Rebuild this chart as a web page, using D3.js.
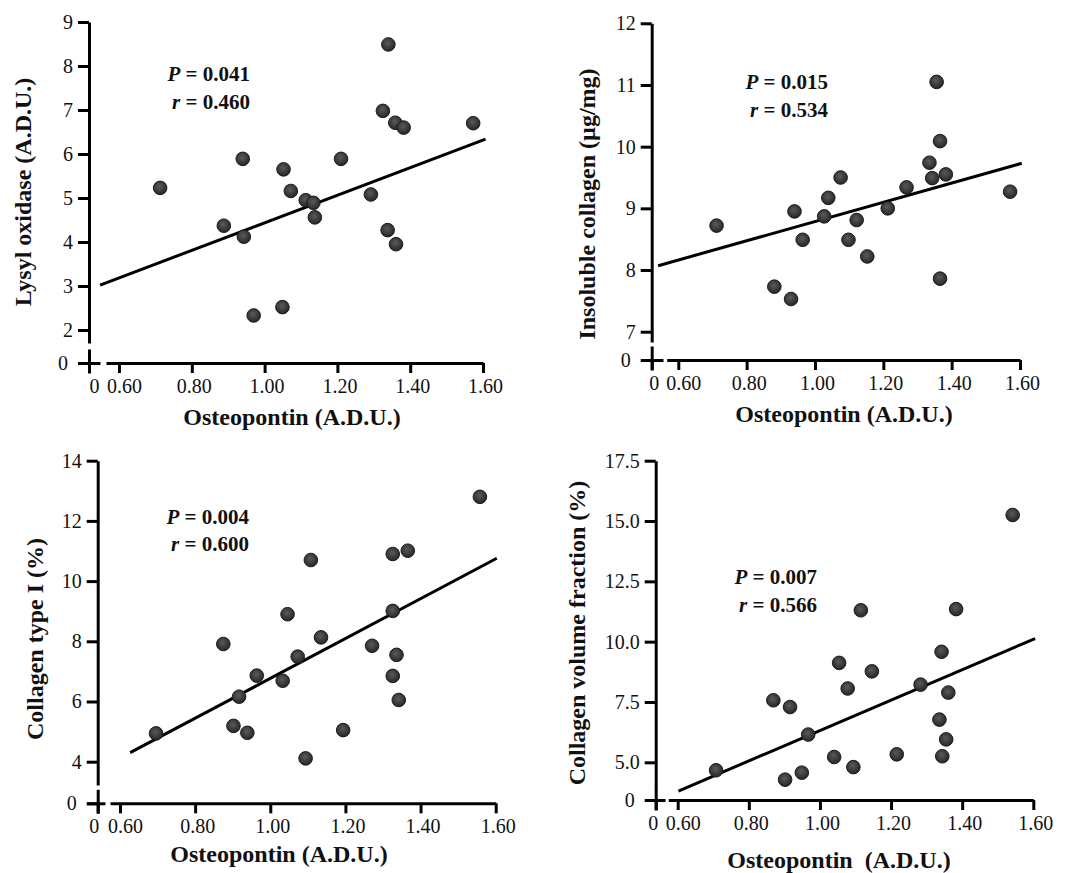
<!DOCTYPE html>
<html lang="en">
<head>
<meta charset="UTF-8">
<title>Osteopontin correlations</title>
<script src="https://cdn.jsdelivr.net/npm/d3@7"></script>
<style>
  body { margin: 0; background: #fff; }
  svg { display: block; font-family: "Liberation Serif", "Times New Roman", serif; }
  .axis path, .axis line { stroke: #000; stroke-width: 3; }
  .axis text { font-size: 20px; fill: #111; font-family: "Liberation Serif", serif; }
  .title { font-size: 24px; font-weight: bold; fill: #111; white-space: pre; }
  .stat { font-size: 21px; font-weight: bold; fill: #111; }
  .fit { stroke: #000; stroke-width: 3; fill: none; }
  .dot { fill: url(#dotFill); stroke: #1b1b1b; stroke-width: 1; }
</style>
</head>
<body>
<svg id="chart" width="1070" height="873"></svg>
<script>
  // osteopontin (A.D.U.) vs lysyl oxidase
  var opnLox = [0.713, 0.888, 0.940, 0.943, 0.970, 1.049, 1.052, 1.072, 1.113, 1.134,
                1.138, 1.210, 1.292, 1.325, 1.340, 1.359, 1.382, 1.338, 1.361, 1.573];
  var lox    = [5.23, 4.37, 5.89, 4.12, 2.33, 2.52, 5.65, 5.16, 4.95, 4.89,
                4.56, 5.89, 5.08, 6.98, 8.49, 6.71, 6.60, 4.27, 3.95, 6.70];

  // osteopontin vs insoluble collagen
  var opnInsol = [0.712, 0.881, 0.930, 0.940, 0.964, 1.027, 1.039, 1.075, 1.098, 1.122,
                  1.153, 1.213, 1.268, 1.335, 1.343, 1.356, 1.366, 1.383, 1.366, 1.571];
  var insol    = [8.72, 7.73, 7.53, 8.95, 8.49, 8.87, 9.17, 9.50, 8.49, 8.81,
                  8.22, 9.00, 9.34, 9.74, 9.49, 11.05, 10.09, 9.55, 7.86, 9.27];

  // osteopontin vs collagen type I
  var opnCol1 = [0.696, 0.875, 0.902, 0.917, 0.939, 0.964, 1.033, 1.046, 1.073, 1.094, 1.108,
                 1.135, 1.194, 1.271, 1.326, 1.326, 1.326, 1.336, 1.342, 1.366, 1.558];
  var col1    = [4.94, 7.91, 5.19, 6.16, 4.96, 6.86, 6.69, 8.90, 7.49, 4.11, 10.70,
                 8.13, 5.05, 7.85, 10.90, 9.01, 6.85, 7.55, 6.05, 11.01, 12.80];

  // osteopontin vs collagen volume fraction
  var opnCvf = [0.708, 0.869, 0.902, 0.916, 0.949, 0.967, 1.040, 1.054, 1.078, 1.094, 1.115,
                1.146, 1.216, 1.283, 1.336, 1.344, 1.342, 1.355, 1.361, 1.383, 1.542];
  var cvf    = [4.67, 7.57, 4.28, 7.29, 4.57, 6.15, 5.22, 9.12, 8.06, 4.80, 11.30,
                8.77, 5.33, 8.22, 6.77, 5.25, 9.58, 5.95, 7.89, 11.35, 15.25];

  // regression lines, end points
  var loxFitX = [0.548, 1.607],   loxFitY = [3.02, 6.34];
  var insolFitX = [0.541, 1.605], insolFitY = [8.07, 9.73];
  var col1FitX = [0.627, 1.603],  col1FitY = [4.30, 10.76];
  var cvfFitX = [0.602, 1.605],   cvfFitY = [3.81, 10.13];

  var xTicks = [0.6, 0.8, 1.0, 1.2, 1.4, 1.6];
  var loxTicks = [2, 3, 4, 5, 6, 7, 8, 9];
  var insolTicks = [7, 8, 9, 10, 11, 12];
  var col1Ticks = [4, 6, 8, 10, 12, 14];
  var cvfTicks = [5, 7.5, 10, 12.5, 15, 17.5];

  var svg = d3.select("#chart");

  var grad = svg.append("defs").append("radialGradient")
    .attr("id", "dotFill").attr("cx", "45%").attr("cy", "40%").attr("r", "60%");
  grad.append("stop").attr("offset", "0%").attr("stop-color", "#5a5a5a");
  grad.append("stop").attr("offset", "100%").attr("stop-color", "#262626");

  var panels = [
    { xs: opnLox, ys: lox, yTicks: loxTicks, yFmt: d3.format("d"), fitX: loxFitX, fitY: loxFitY,
      yTitle: "Lysyl oxidase (A.D.U.)", xTitle: "Osteopontin (A.D.U.)", p: "0.041", r: "0.460",
      ax: 89, zeroY: 363, yPx: [330, 22], yBreak: 343, xPx: [119, 483], xStart: 106, stubR: 100, zeroDx: 5,
      yTitlePos: [23, 192], xTitlePos: [292, 425], statPos: [250, 81, 109] },
    { xs: opnInsol, ys: insol, yTicks: insolTicks, yFmt: d3.format("d"), fitX: insolFitX, fitY: insolFitY,
      yTitle: "Insoluble collagen (\u00b5g/mg)", xTitle: "Osteopontin (A.D.U.)", p: "0.015", r: "0.534",
      ax: 651.7, zeroY: 360, yPx: [331.7, 23.3], yBreak: 342, xPx: [678.3, 1020], xStart: 666.7, stubR: 663, zeroDx: 2,
      yTitlePos: [586.7, 204], xTitlePos: [844, 422], statPos: [828, 89, 117] },
    { xs: opnCol1, ys: col1, yTicks: col1Ticks, yFmt: d3.format("d"), fitX: col1FitX, fitY: col1FitY,
      yTitle: "Collagen type I (%)", xTitle: "Osteopontin (A.D.U.)", p: "0.004", r: "0.600",
      ax: 97.7, zeroY: 803.3, yPx: [761.7, 460.7], yBreak: 785, xPx: [120, 495.7], xStart: 110, stubR: 105, zeroDx: -4,
      yTitlePos: [35, 639], xTitlePos: [279, 862], statPos: [249, 524, 551] },
    { xs: opnCvf, ys: cvf, yTicks: cvfTicks, yFmt: d3.format(".1f"), fitX: cvfFitX, fitY: cvfFitY,
      yTitle: "Collagen volume fraction (%)", xTitle: "Osteopontin  (A.D.U.)", p: "0.007", r: "0.566",
      ax: 655.7, zeroY: 800, yPx: [762.3, 460.7], yBreak: 786.7, xPx: [677.7, 1033.3], xStart: 668.3, stubR: 665, zeroDx: -3,
      yTitlePos: [576.7, 633], xTitlePos: [839, 868], statPos: [817, 584, 612] }
  ];

  panels.forEach(function(pn) {
    var g = svg.append("g");

    var y = d3.scaleLinear()
      .domain([pn.yTicks[0], pn.yTicks[pn.yTicks.length - 1]])
      .range(pn.yPx);
    var x = d3.scaleLinear().domain([0.6, 1.6]).range(pn.xPx);

    // main y axis, running down to the break
    var yAxisScale = y.copy().domain([y.invert(pn.yBreak), y.domain()[1]]).range([pn.yBreak, pn.yPx[1]]);
    g.append("g").attr("class", "axis")
      .attr("transform", "translate(" + pn.ax + ",0)")
      .call(d3.axisLeft(yAxisScale).tickValues(pn.yTicks).tickFormat(pn.yFmt)
        .tickSize(11).tickSizeOuter(0).tickPadding(5));

    // short segment for zero below the break
    var yZero = d3.scaleLinear().domain([-10, 14]).range([pn.zeroY + 10, pn.zeroY - 14]);
    g.append("g").attr("class", "axis")
      .attr("transform", "translate(" + pn.ax + ",0)")
      .call(d3.axisLeft(yZero).tickValues([0]).tickFormat(d3.format("d"))
        .tickSize(11).tickSizeOuter(0).tickPadding(10));

    var xZero = d3.scaleLinear().domain([-11, pn.stubR - pn.ax]).range([pn.ax - 11, pn.stubR]);
    g.append("g").attr("class", "axis")
      .attr("transform", "translate(0," + pn.zeroY + ")")
      .call(d3.axisBottom(xZero).tickValues([0]).tickFormat(d3.format("d"))
        .tickSize(10).tickSizeOuter(0).tickPadding(6))
      .selectAll("text").attr("dx", pn.zeroDx);

    // main x axis
    var xAxisScale = x.copy().domain([x.invert(pn.xStart), 1.6]).range([pn.xStart, pn.xPx[1]]);
    g.append("g").attr("class", "axis")
      .attr("transform", "translate(0," + pn.zeroY + ")")
      .call(d3.axisBottom(xAxisScale).tickValues(xTicks).tickFormat(d3.format(".2f"))
        .tickSize(10).tickSizeOuter(0).tickPadding(6))
      .selectAll("text").attr("dx", function(d) { return d === 0.6 ? 5 : 2; });

    // regression line
    g.append("path").attr("class", "fit")
      .datum(d3.zip(pn.fitX, pn.fitY))
      .attr("d", d3.line().x(function(d) { return x(d[0]); }).y(function(d) { return y(d[1]); }));

    // data points
    g.selectAll("circle.dot")
      .data(d3.zip(pn.xs, pn.ys))
      .enter().append("circle")
      .attr("class", "dot")
      .attr("cx", function(d) { return x(d[0]); })
      .attr("cy", function(d) { return y(d[1]); })
      .attr("r", 6.8);

    // titles
    g.append("text").attr("class", "title")
      .attr("transform", "translate(" + pn.yTitlePos[0] + "," + pn.yTitlePos[1] + ") rotate(-90)")
      .attr("text-anchor", "middle").attr("dominant-baseline", "central")
      .text(pn.yTitle);
    g.append("text").attr("class", "title")
      .attr("x", pn.xTitlePos[0]).attr("y", pn.xTitlePos[1])
      .attr("text-anchor", "middle")
      .text(pn.xTitle);

    // statistics
    var s1 = g.append("text").attr("class", "stat")
      .attr("x", pn.statPos[0]).attr("y", pn.statPos[1]).attr("text-anchor", "end");
    s1.append("tspan").attr("font-style", "italic").text("P");
    s1.append("tspan").text(" = " + pn.p);
    var s2 = g.append("text").attr("class", "stat")
      .attr("x", pn.statPos[0]).attr("y", pn.statPos[2]).attr("text-anchor", "end");
    s2.append("tspan").attr("font-style", "italic").text("r");
    s2.append("tspan").text(" = " + pn.r);
  });
</script>
</body>
</html>
